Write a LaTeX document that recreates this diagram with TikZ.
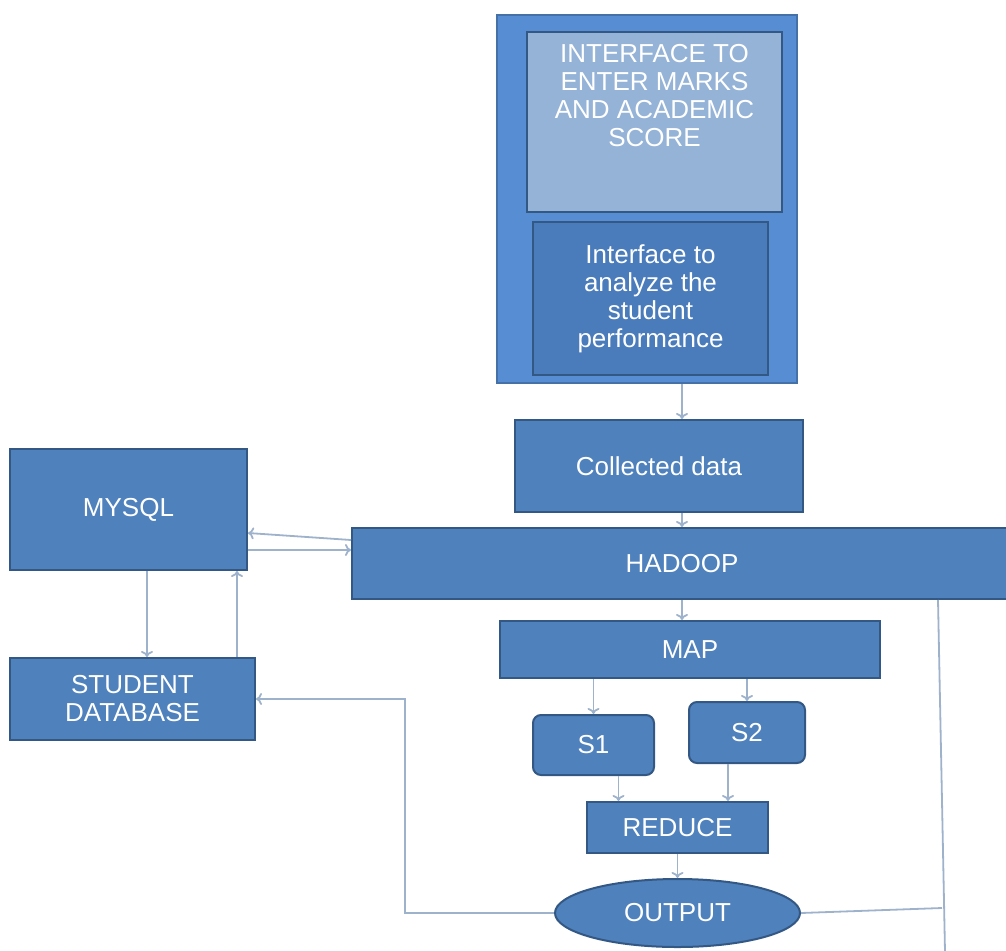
\documentclass[tikz,border=0pt]{standalone}
\usepackage{fontspec}
\setmainfont{Liberation Sans}
\usepackage{tikz}
\usetikzlibrary{arrows,arrows.meta,positioning,shapes.geometric,calc}

\definecolor{boxfill}{RGB}{79,129,189}
\definecolor{boxline}{RGB}{52,88,132}
\definecolor{framefill}{RGB}{86,141,211}
\definecolor{lightfill}{RGB}{149,179,215}
\definecolor{darkfill}{RGB}{74,124,187}
\definecolor{connline}{RGB}{158,178,204}

\begin{document}
\begin{tikzpicture}[x=1pt, y=-1pt,
	blk/.style={draw=boxline, fill=boxfill, line width=2pt, text=white, inner sep=0pt,
		align=center, font=\fontsize{26}{28}\selectfont},
	rblk/.style={blk, rounded corners=8pt},
	txt/.style={text=white, align=center, font=\fontsize{26}{28}\selectfont},
	conn/.style={draw=connline, line width=1.8pt, -{To[length=6pt,width=12pt]}},
	plain/.style={draw=connline, line width=1.8pt}]
	\useasboundingbox (0,0) rectangle (1006,950); % Rand um Grafik
	
	% Eingabe-Oberflaeche
	\node[blk, fill=framefill, draw=framefill!80!black, minimum width=300pt, minimum height=368pt] (frame) at (647,199) {};
	\node[blk, fill=lightfill, minimum width=255pt, minimum height=180pt] (enter) at (654.5,122) {};
	\node[txt, below=10pt of enter.north] (entertxt) {INTERFACE TO\\ENTER MARKS\\AND ACADEMIC\\SCORE};
	\node[blk, fill=darkfill, minimum width=235pt, minimum height=153pt] (analyze) at (650.5,298.5) {Interface to\\analyze the\\student\\performance};
	
	\node[blk, minimum width=288pt, minimum height=92pt] (collected) at (659,466) {Collected data};
	\node[blk, minimum width=660pt, minimum height=71pt] (hadoop) at (682,563.5) {HADOOP};
	\node[blk, minimum width=237pt, minimum height=121pt] (mysql) at (128.5,509.5) {MYSQL};
	\node[blk, minimum width=245pt, minimum height=82pt] (studb) at (132.5,699) {STUDENT\\DATABASE};
	
	% MapReduce
	\node[blk, minimum width=380pt, minimum height=57pt] (map) at (690,649.5) {MAP};
	\node[rblk, minimum width=121pt, minimum height=60pt] (s1) at (593.5,745) {S1};
	\node[rblk, minimum width=116pt, minimum height=61pt] (s2) at (747,732.5) {S2};
	\node[blk, minimum width=181pt, minimum height=51pt] (reduce) at (677.5,827.5) {REDUCE};
	\node[blk, ellipse, minimum width=245pt, minimum height=68pt] (output) at (677.5,913) {OUTPUT};
	
	\coordinate (rjoin) at (942,908);
	\coordinate (rend) at (945,952);
	
	% Verbindungen
	\draw[conn] (frame.south -| hadoop) -- (collected.north -| hadoop);
	\draw[conn] (collected.south -| hadoop) -- (hadoop.north);
	\draw[conn] (hadoop.south) -- (hadoop.south |- map.north);
	\draw[conn] (map.south -| s1) -- (s1.north);
	\draw[conn] (map.south -| s2) -- (s2.north);
	\draw[conn] ([xshift=25pt]s1.south) -- ([xshift=25pt]s1.south |- reduce.north);
	\draw[conn] ([xshift=-19pt]s2.south) -- ([xshift=-19pt]s2.south |- reduce.north);
	\draw[conn] (reduce.south) -- (output.north);
	
	\draw[conn] ([yshift=23.5pt]hadoop.west) -- ([yshift=-23.5pt]mysql.east);
	\draw[conn] ([yshift=-40.5pt]mysql.east) -- ([yshift=13.5pt]hadoop.west);
	\draw[conn] ([xshift=18.5pt]mysql.south) -- ([xshift=18.5pt]mysql.south |- studb.north);
	\draw[conn] ([xshift=108.5pt]mysql.south |- studb.north) -- ([xshift=108.5pt]mysql.south);
	\draw[conn] (output.west) -| ([xshift=149pt]studb.east) -- (studb.east);
	
	\draw[plain] (output.east) -- (rjoin);
	\draw[plain] ([xshift=256pt]hadoop.south) -- (rend);
\end{tikzpicture}
\end{document}
